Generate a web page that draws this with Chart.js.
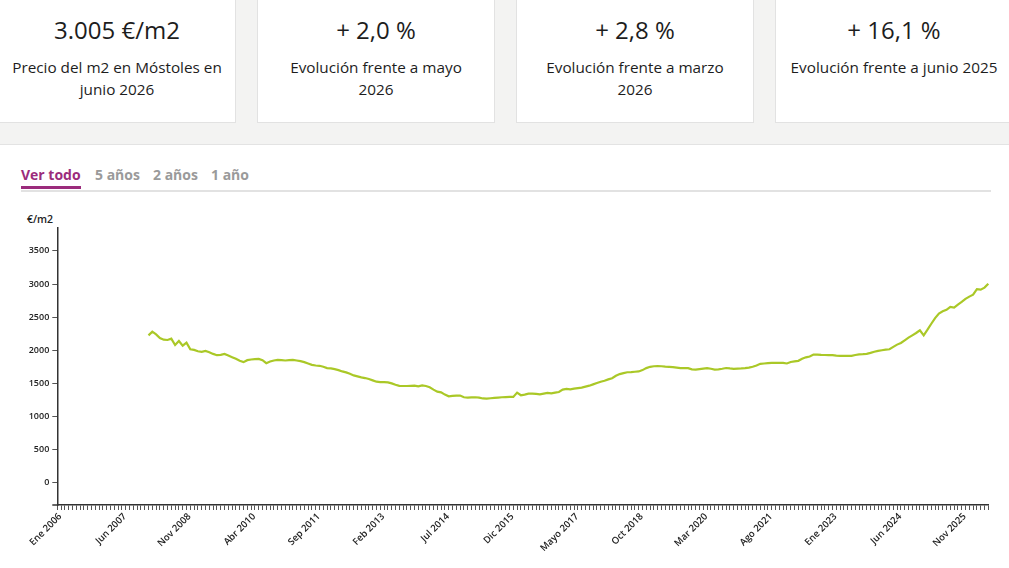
<!DOCTYPE html>
<html lang="es">
<head>
<meta charset="utf-8">
<title>Precio del m2 en Móstoles</title>
<script src="https://cdn.jsdelivr.net/npm/chart.js@4.4.0/dist/chart.umd.min.js"></script>
<style>
  html, body { margin: 0; padding: 0; background: #fff; }
  body { width: 1009px; height: 568px; position: relative; overflow: hidden; font-family: "Open Sans", sans-serif; color: #222; }
  .band { position: absolute; left: 0; top: 0; width: 1009px; height: 144px; background: #f3f3f2; border-bottom: 1px solid #e3e3e3; }
  .card { position: absolute; top: -2px; width: 236px; height: 123px; background: #fff; border: 1px solid #e2e2e2; text-align: center; }
  .card .val { margin-top: 15px; font-size: 24px; line-height: 32px; color: #1d1d1d; }
  .card .lbl { margin-top: 10px; font-size: 15.3px; line-height: 22px; color: #1d1d1d; white-space: nowrap; }
  .tabs { position: absolute; left: 21px; top: 165px; width: 970px; height: 25px; border-bottom: 2px solid #e2e2e2; font-weight: bold; font-size: 14px; }
  .tabs span { position: absolute; top: 0; color: #9a9a9a; }
  .tabs span.on { color: #9b2c7c; border-bottom: 3px solid #9b2c7c; padding-bottom: 2px; }
  .unit { position: absolute; left: 27px; top: 212px; font-size: 10.5px; font-weight: 600; color: #222; }
  #wrap { position: absolute; left: 0; top: 200px; width: 1009px; height: 368px; }
</style>
</head>
<body>
<div class="band"></div>
<div class="card" style="left:-2px"><div class="val">3.005 €/m2</div><div class="lbl">Precio del m2 en Móstoles en<br>junio 2026</div></div>
<div class="card" style="left:257px"><div class="val">+ 2,0 %</div><div class="lbl">Evolución frente a mayo<br>2026</div></div>
<div class="card" style="left:516px"><div class="val">+ 2,8 %</div><div class="lbl">Evolución frente a marzo<br>2026</div></div>
<div class="card" style="left:775px"><div class="val">+ 16,1 %</div><div class="lbl">Evolución frente a junio 2025</div></div>

<div class="tabs">
  <span class="on" style="left:0">Ver todo</span>
  <span style="left:74px">5 años</span>
  <span style="left:132px">2 años</span>
  <span style="left:190px">1 año</span>
</div>
<div class="unit">€/m2</div>
<div id="wrap"><canvas id="myChart"></canvas></div>

<script>
// month names used on the x axis
const monthNames = ['Ene', 'Feb', 'Mar', 'Abr', 'Mayo', 'Jun', 'Jul', 'Ago', 'Sep', 'Oct', 'Nov', 'Dic'];
const firstYear = 2006;
const monthCount = 246; // Ene 2006 .. Jun 2026
const labelEvery = 17;

// months before the first price (Ene 2006 - Dic 2007 have no data)
const emptyMonths = 24;

// €/m2 from Ene 2008 to Jun 2026
const prices2008 = [2225, 2280, 2240, 2185, 2160, 2155, 2175, 2080, 2140, 2070, 2115, 2015];
const prices2009 = [2005, 1985, 1975, 1990, 1970, 1945, 1925, 1930, 1945, 1920, 1895, 1870];
const prices2010 = [1840, 1820, 1850, 1860, 1865, 1870, 1850, 1805, 1830, 1845, 1855, 1850];
const prices2011 = [1845, 1850, 1855, 1845, 1835, 1820, 1800, 1780, 1770, 1765, 1750, 1730];
const prices2012 = [1725, 1715, 1700, 1680, 1665, 1645, 1620, 1605, 1590, 1580, 1565, 1545];
const prices2013 = [1525, 1520, 1518, 1515, 1500, 1480, 1462, 1460, 1460, 1462, 1465, 1455];
const prices2014 = [1470, 1460, 1440, 1405, 1375, 1365, 1330, 1305, 1310, 1315, 1315, 1290];
const prices2015 = [1285, 1288, 1290, 1285, 1272, 1270, 1275, 1280, 1285, 1290, 1292, 1295];
const prices2016 = [1295, 1360, 1320, 1330, 1345, 1345, 1340, 1335, 1345, 1355, 1350, 1360];
const prices2017 = [1370, 1405, 1415, 1410, 1420, 1428, 1435, 1450, 1465, 1485, 1505, 1525];
const prices2018 = [1540, 1560, 1578, 1615, 1640, 1655, 1668, 1670, 1675, 1680, 1700, 1730];
const prices2019 = [1750, 1758, 1760, 1758, 1752, 1748, 1745, 1738, 1730, 1730, 1730, 1712];
const prices2020 = [1708, 1715, 1722, 1730, 1720, 1708, 1712, 1720, 1732, 1725, 1720, 1722];
const prices2021 = [1725, 1730, 1738, 1750, 1770, 1795, 1800, 1805, 1810, 1810, 1810, 1808];
const prices2022 = [1800, 1822, 1832, 1840, 1870, 1893, 1905, 1935, 1935, 1930, 1928, 1926];
const prices2023 = [1925, 1918, 1915, 1915, 1915, 1915, 1928, 1937, 1940, 1945, 1960, 1978];
const prices2024 = [1990, 2000, 2008, 2015, 2050, 2085, 2110, 2150, 2190, 2225, 2260, 2300];
const prices2025 = [2225, 2310, 2400, 2485, 2555, 2588, 2610, 2655, 2645, 2690, 2730, 2775];
const prices2026 = [2810, 2840, 2923, 2915, 2946, 3005];

const yTicks = [0, 500, 1000, 1500, 2000, 2500, 3000, 3500];

// build the month labels
const labels = [];
for (let i = 0; i < monthCount; i++) {
  labels.push(monthNames[i % 12] + ' ' + (firstYear + Math.floor(i / 12)));
}

const prices = [].concat(prices2008, prices2009, prices2010, prices2011, prices2012, prices2013,
  prices2014, prices2015, prices2016, prices2017, prices2018, prices2019, prices2020, prices2021,
  prices2022, prices2023, prices2024, prices2025, prices2026);
const series = new Array(emptyMonths).fill(null).concat(prices);

// x axis line sticks out a little to the left of the y axis
const axisStub = {
  id: 'axisStub',
  afterDraw(chart) {
    const { ctx, chartArea } = chart;
    ctx.save();
    ctx.strokeStyle = '#333';
    ctx.lineWidth = 1.5;
    ctx.beginPath();
    ctx.moveTo(chartArea.left - 5, chartArea.bottom);
    ctx.lineTo(chartArea.left, chartArea.bottom);
    ctx.stroke();
    ctx.restore();
  }
};

const ctx = document.getElementById('myChart').getContext('2d');

new Chart(ctx, {
  type: 'line',
  data: {
    labels: labels,
    datasets: [{
      label: '€/m2',
      data: series,
      borderColor: '#aac827',
      borderWidth: 2.2,
      pointRadius: 0,
      tension: 0,
      fill: false
    }]
  },
  options: {
    responsive: true,
    maintainAspectRatio: false,
    animation: false,
    layout: { padding: { top: 28, right: 20.7, left: 0, bottom: 0 } },
    plugins: {
      legend: { display: false },
      tooltip: { enabled: false }
    },
    scales: {
      x: {
        offset: false,
        border: { display: true, color: '#333', width: 1.5 },
        grid: { drawOnChartArea: false, drawTicks: true, tickLength: 5, color: '#555', offset: false },
        ticks: {
          autoSkip: false,
          maxRotation: 45,
          minRotation: 45,
          padding: 1,
          labelOffset: 3,
          color: '#222',
          font: { family: 'Open Sans', size: 9.5, weight: '600' },
          callback: function (value, index) {
            return index % labelEvery === 0 ? labels[index] : '';
          }
        },
        afterFit: function (scale) { scale.height = 63; }
      },
      y: {
        min: -337,
        max: 3846,
        border: { display: true, color: '#333', width: 1.5 },
        grid: { drawOnChartArea: false, drawTicks: true, tickLength: 5, color: '#555' },
        ticks: {
          padding: 3,
          color: '#222',
          font: { family: 'Open Sans', size: 9, weight: '600' },
          callback: function (value) { return String(value); }
        },
        afterBuildTicks: function (scale) {
          scale.ticks = yTicks.map(v => ({ value: v }));
        },
        afterFit: function (scale) { scale.width = 57.3; }
      }
    }
  },
  plugins: [axisStub]
});
</script>
</body>
</html>
